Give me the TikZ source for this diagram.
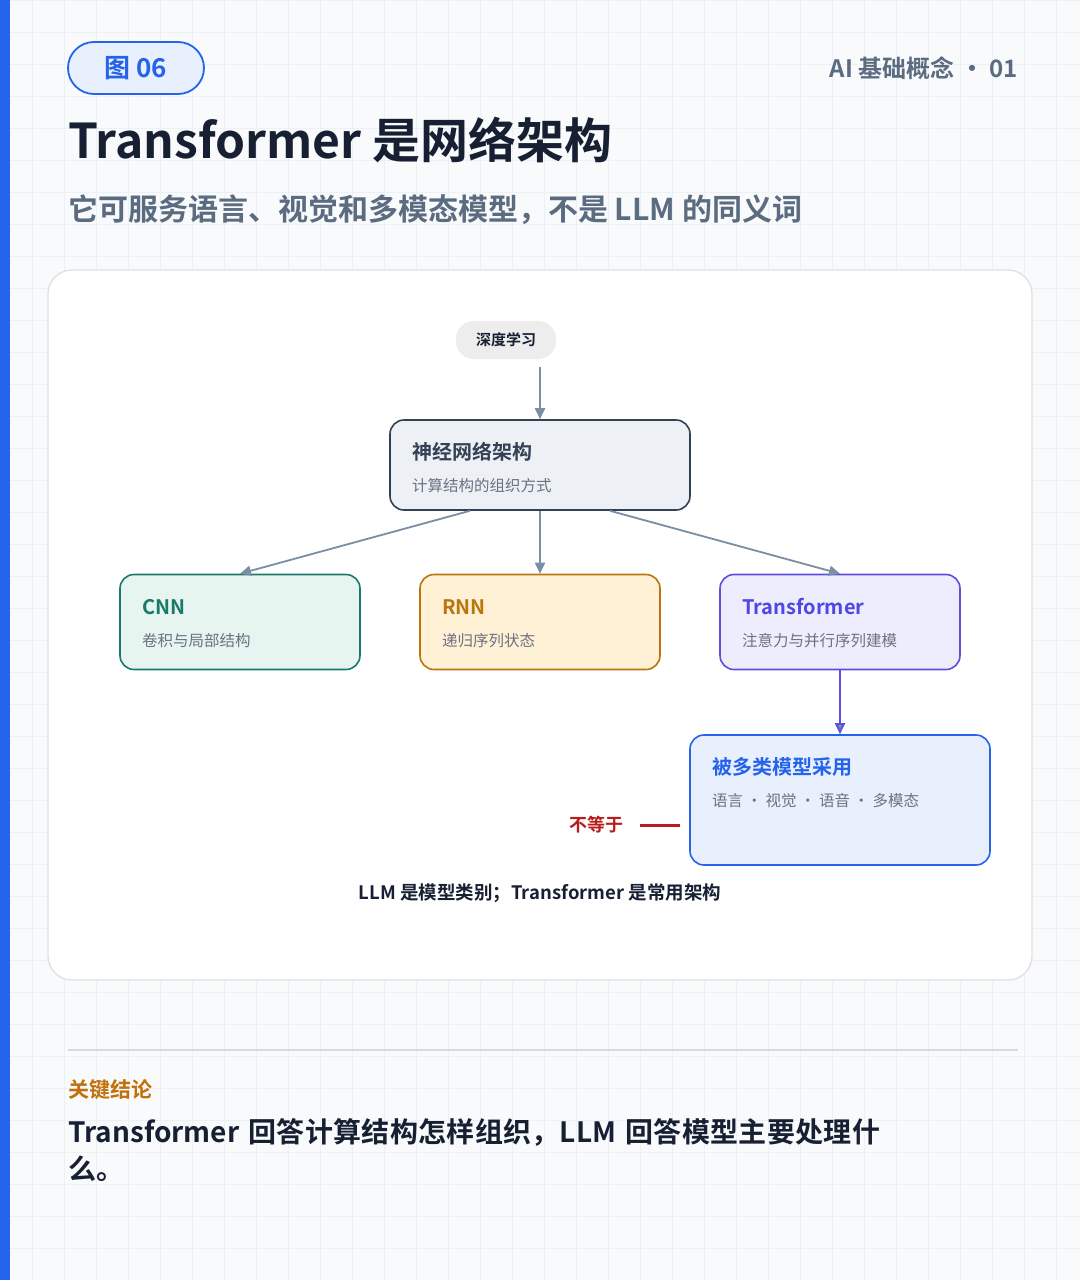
\documentclass[tikz,border=0pt]{standalone}
\usepackage{fontspec}
\setmainfont{Noto Sans CJK SC}[BoldFont={Noto Sans CJK SC Bold}]
\XeTeXlinebreaklocale "zh"
\XeTeXlinebreakskip=0pt plus 1pt
\usetikzlibrary{arrows.meta}
\definecolor{bg}{HTML}{F8FAFC}
\definecolor{grid}{HTML}{EDF1F5}
\definecolor{blue}{HTML}{2563EB}
\definecolor{ink}{HTML}{172033}
\definecolor{muted}{HTML}{5B6B80}
\definecolor{sub}{HTML}{6B7280}
\definecolor{arr}{HTML}{7A8EA5}
\definecolor{nnfill}{HTML}{EDF1F6}
\definecolor{nnline}{HTML}{334155}
\definecolor{cnnline}{HTML}{1A7A6A}
\definecolor{cnnfill}{HTML}{E6F5F0}
\definecolor{rnnline}{HTML}{B8760D}
\definecolor{rnnfill}{HTML}{FFF1D6}
\definecolor{tfline}{HTML}{5B4EE0}
\definecolor{tffill}{HTML}{EEEDFD}
\definecolor{tftext}{HTML}{4F46E5}
\definecolor{usefill}{HTML}{E8F0FE}
\definecolor{redc}{HTML}{B91C1C}
\definecolor{orng}{HTML}{C2700A}
\begin{document}
\begin{tikzpicture}[x=1pt,y=-1pt,
  box/.style={draw,line width=1.6pt,rounded corners=14pt},
  ttl/.style={anchor=west,inner sep=0pt,font=\bfseries\fontsize{20}{22}\selectfont},
  sbt/.style={anchor=west,inner sep=0pt,text=sub,font=\fontsize{15.5}{18}\selectfont},
  ar/.style={draw=arr,line width=1.8pt,-{Triangle[length=11pt,width=10pt]}}]
\useasboundingbox (0,0) rectangle (1080,1280);
\fill[bg] (0,0) rectangle (1080,1280);
\foreach \i in {0,32,...,1280}{\draw[grid,line width=0.8pt] (\i,0)--(\i,1280); \draw[grid,line width=0.8pt] (0,\i)--(1080,\i);}
\fill[blue] (0,0) rectangle (10,1280);
\node[draw=blue,fill=usefill,line width=1.8pt,rounded corners=26pt,minimum width=136pt,minimum height=52pt,text=blue,font=\bfseries\fontsize{26}{30}\selectfont] (tag) at (136,68) {图 06};
\node[anchor=east,inner sep=0pt,text=muted,font=\bfseries\fontsize{24}{28}\selectfont] (top) at (1018,68) {AI 基础概念 · 01};
\node[anchor=west,text=ink,font=\bfseries\fontsize{48}{52}\selectfont,inner sep=0pt] (title) at (68,140) {Transformer 是网络架构};
\node[anchor=west,text=muted,font=\bfseries\fontsize{30}{34}\selectfont,inner sep=0pt] (subt) at (68,210) {它可服务语言、视觉和多模态模型，不是 LLM 的同义词};
\node[draw=black!12,fill=white,line width=1.3pt,rounded corners=24pt,minimum width=984pt,minimum height=710pt] (card) at (540,625) {};
\node[fill=black!7,rounded corners=18pt,minimum width=100pt,minimum height=38pt,text=ink,font=\bfseries\fontsize{15}{18}\selectfont] (dl) at (506,340) {深度学习};
\node[box,draw=nnline,fill=nnfill,minimum width=300pt,minimum height=90pt] (nn) at (540,465) {};
\node[ttl,text=nnline] at (412,452) {神经网络架构};
\node[sbt] at (412,486) {计算结构的组织方式};
\node[box,draw=cnnline,fill=cnnfill,minimum width=240pt,minimum height=95pt] (cnn) at (240,622) {};
\node[ttl,text=cnnline] at (142,607) {CNN};
\node[sbt] at (142,641) {卷积与局部结构};
\node[box,draw=rnnline,fill=rnnfill,minimum width=240pt,minimum height=95pt] (rnn) at (540,622) {};
\node[ttl,text=rnnline] at (442,607) {RNN};
\node[sbt] at (442,641) {递归序列状态};
\node[box,draw=tfline,fill=tffill,minimum width=240pt,minimum height=95pt] (tf) at (840,622) {};
\node[ttl,text=tftext] at (742,607) {Transformer};
\node[sbt] at (742,641) {注意力与并行序列建模};
\node[box,draw=blue,fill=usefill,minimum width=300pt,minimum height=130pt] (use) at (840,800) {};
\node[ttl,text=blue] at (712,767) {被多类模型采用};
\node[sbt] at (712,801) {语言 · 视觉 · 语音 · 多模态};
\node[anchor=east,inner sep=0pt,text=redc,font=\bfseries\fontsize{18}{22}\selectfont] (ne) at (624,825) {不等于};
\coordinate (ne1) at (640,825); \coordinate (ne2) at (680,825);
\draw[redc,line width=3pt] (ne1)--(ne2);
\node[text=ink,font=\bfseries\fontsize{18.5}{22}\selectfont] (cap) at (540,893) {LLM 是模型类别；Transformer 是常用架构};
\draw[ar] (dl.south -| nn.north) ++(0,8) -- (nn.north);
\draw[ar] ([xshift=-70pt]nn.south) -- (cnn.north);
\draw[ar] (nn.south) -- (rnn.north);
\draw[ar] ([xshift=70pt]nn.south) -- (tf.north);
\draw[ar,draw=tfline,-{Triangle[length=11pt,width=10pt,fill=arr]}] (tf.south) -- (use.north);
\coordinate (s1) at (68,1050); \coordinate (s2) at (1018,1050);
\draw[black!15,line width=1.5pt] (s1)--(s2);
\node[anchor=west,text=orng,font=\bfseries\fontsize{21}{24}\selectfont,inner sep=0pt] (kc) at (68,1090) {关键结论};
\node[anchor=north west,text=ink,font=\bfseries\fontsize{28}{37}\selectfont,inner sep=0pt,text width=830pt,align=left] (concl) at (68,1118) {Transformer 回答计算结构怎样组织，LLM 回答模型主要处理什么。};
\end{tikzpicture}
\end{document}
